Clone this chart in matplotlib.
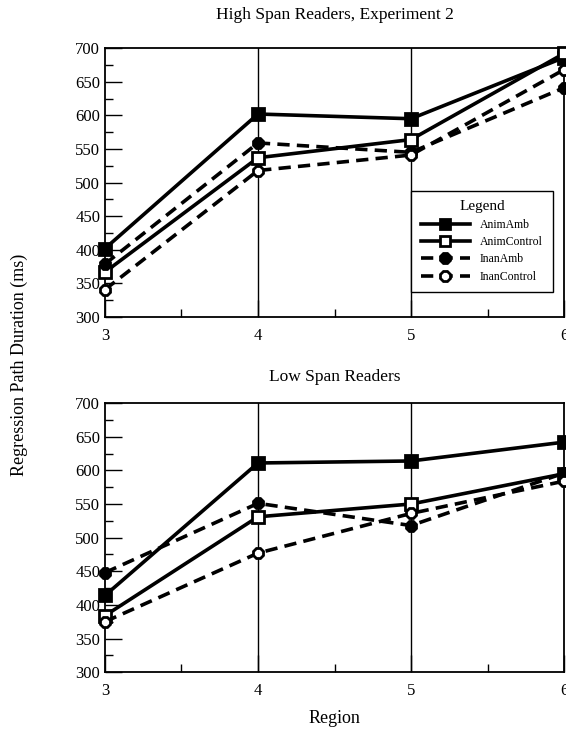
import matplotlib as mpl
from matplotlib import pyplot as plt
from matplotlib.ticker import MultipleLocator

mpl.rcParams["font.family"] = ["Liberation Serif", "DejaVu Serif"]
mpl.rcParams["axes.linewidth"] = 1.3

regions = [3, 4, 5, 6]
series = ["AnimAmb", "AnimControl", "InanAmb", "InanControl"]

# high span readers
high = {
    "AnimAmb":     [402, 602, 595, 686],
    "AnimControl": [367, 537, 564, 692],
    "InanAmb":     [379, 559, 545, 641],
    "InanControl": [341, 518, 541, 668],
}
# low span readers
low = {
    "AnimAmb":     [414, 611, 614, 642],
    "AnimControl": [384, 531, 550, 595],
    "InanAmb":     [448, 551, 518, 596],
    "InanControl": [375, 477, 536, 584],
}

styles = {
    "AnimAmb":     dict(ls="-", marker="s", mfc="black"),
    "AnimControl": dict(ls="-", marker="s", mfc="white"),
    "InanAmb":     dict(ls=(0, (3.4, 2.0)), marker="8", mfc="black"),
    "InanControl": dict(ls=(0, (3.4, 2.0)), marker="8", mfc="white"),
}

fig = plt.figure(figsize=(5.66, 7.29), dpi=100)
ax1 = fig.add_axes([0.1855, 0.565, 0.811, 0.369])
ax2 = fig.add_axes([0.1855, 0.078, 0.811, 0.369])

for ax, data in [(ax1, high), (ax2, low)]:
    for name in series:
        st = styles[name]
        ax.plot(regions, data[name], color="black", lw=2.6, ls=st["ls"],
                marker=st["marker"], ms=8.5, mfc=st["mfc"], mec="black",
                mew=2, label=name, clip_on=False, zorder=3)
    ax.set_xlim(3, 6)
    ax.set_ylim(300, 700)
    ax.yaxis.set_major_locator(MultipleLocator(50))
    ax.yaxis.set_minor_locator(MultipleLocator(25))
    ax.xaxis.set_major_locator(MultipleLocator(1))
    ax.xaxis.set_minor_locator(MultipleLocator(0.5))
    ax.tick_params(direction="in", which="major", length=12, width=1, labelsize=12)
    ax.tick_params(direction="in", which="minor", length=6, width=1)
    ax.tick_params(axis="x", pad=8)
    for xv in [4, 5]:
        ax.axvline(xv, color="black", lw=1, zorder=1)

ax1.set_title("High Span Readers, Experiment 2", fontsize=12.5, pad=21)
ax2.set_title("Low Span Readers", fontsize=12.5, pad=16)
ax2.set_xlabel("Region", fontsize=13, labelpad=8)
fig.text(0.034, 0.5, "Regression Path Duration (ms)", rotation=90,
         ha="center", va="center", fontsize=13)

leg = ax1.legend(loc="lower left", bbox_to_anchor=(0.667, 0.093, 0.31, 0.437),
                 mode="expand", title="Legend", fontsize=8.5, title_fontsize=11,
                 handlelength=4.2, markerscale=0.9, fancybox=False,
                 edgecolor="black", framealpha=1, borderaxespad=0,
                 labelspacing=0.45, borderpad=0.8)
leg.get_frame().set_linewidth(1)

fig.savefig("out.png", dpi=100)
